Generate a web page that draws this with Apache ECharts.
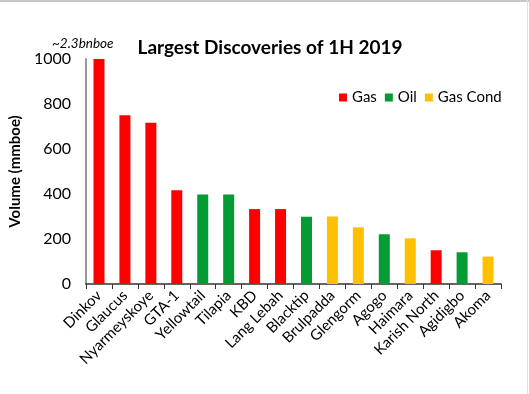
<!DOCTYPE html>
<html><head><meta charset="utf-8">
<script src="https://cdn.jsdelivr.net/npm/echarts@6/dist/echarts.min.js"></script>
<style>html,body{margin:0;padding:0;background:#fff}#c{width:529px;height:394px}</style>
</head><body><div id="c"></div>
<script>
const categories = ["Dinkov","Glaucus","Nyarmeyskoye","GTA-1","Yellowtail","Tilapia","KBD","Lang Lebah","Blacktip","Brulpadda","Glengorm","Agogo","Haimara","Karish North","Agidigbo","Akoma"];
const values = [1000,750,717,417,398,398,333,333,299,300,252,221,203,150,141,122];
const types = ["Gas","Gas","Gas","Gas","Oil","Oil","Gas","Gas","Oil","Gas Cond","Gas Cond","Oil","Gas Cond","Gas","Oil","Gas Cond"];
const typeNames = ["Gas","Oil","Gas Cond"];
const typeColors = {"Gas":"#FF0000","Oil":"#039B34","Gas Cond":"#FFC000"};
const yTicks = [0,200,400,600,800,1000];

const font = "Lato, 'Open Sans', sans-serif";
const series = typeNames.map(t => ({
  name: t, type: 'bar', stack: 'all', barWidth: 11,
  itemStyle: {color: typeColors[t]},
  data: values.map((v,i) => types[i] === t ? v : null)
}));

const chart = echarts.init(document.getElementById('c'));
chart.setOption({
  animation: false,
  title: {text: 'Largest Discoveries of 1H 2019', left: 265, textAlign: 'center', top: 33,
    textStyle: {fontFamily: font, fontWeight: 'bold', fontSize: 19, color: '#000'}},
  legend: {data: typeNames, left: 334, top: 85, itemWidth: 8, itemHeight: 8, itemGap: 8,
    icon: 'rect', textStyle: {fontFamily: font, fontSize: 15, color: '#000'}},
  graphic: [
    {type: 'text', left: 52, top: 37, style: {text: '~2.3bnboe', font: 'italic 13.5px ' + font, fill: '#000'}},
    {type: 'rect', shape: {x: 0, y: 0, width: 529, height: 2}, style: {fill: '#c8c8c8'}},
    {type: 'rect', shape: {x: 527, y: 0, width: 1, height: 394}, style: {fill: '#e2e2e2'}}
  ],
  grid: {left: 70, right: 28, top: 59, bottom: 110},
  xAxis: {type: 'category', data: categories,
    axisLine: {lineStyle: {color: '#333', width: 1.5}},
    axisTick: {show: true, length: 5, lineStyle: {color: '#333'}},
    axisLabel: {rotate: 45, interval: 0, fontFamily: font, fontSize: 15, color: '#000', margin: 9}},
  yAxis: {type: 'value', min: yTicks[0], max: yTicks[yTicks.length-1], interval: 200,
    name: 'Volume (mmboe)', nameLocation: 'middle', nameGap: 53, nameRotate: 90,
    nameTextStyle: {fontFamily: font, fontWeight: 'bold', fontSize: 15, color: '#000'},
    axisLine: {show: true, lineStyle: {color: '#999', width: 2}},
    axisTick: {show: false}, splitLine: {show: false},
    axisLabel: {fontFamily: font, fontSize: 16, color: '#000', margin: 15, formatter: v => String(v)}},
  series: series
});
</script></body></html>
